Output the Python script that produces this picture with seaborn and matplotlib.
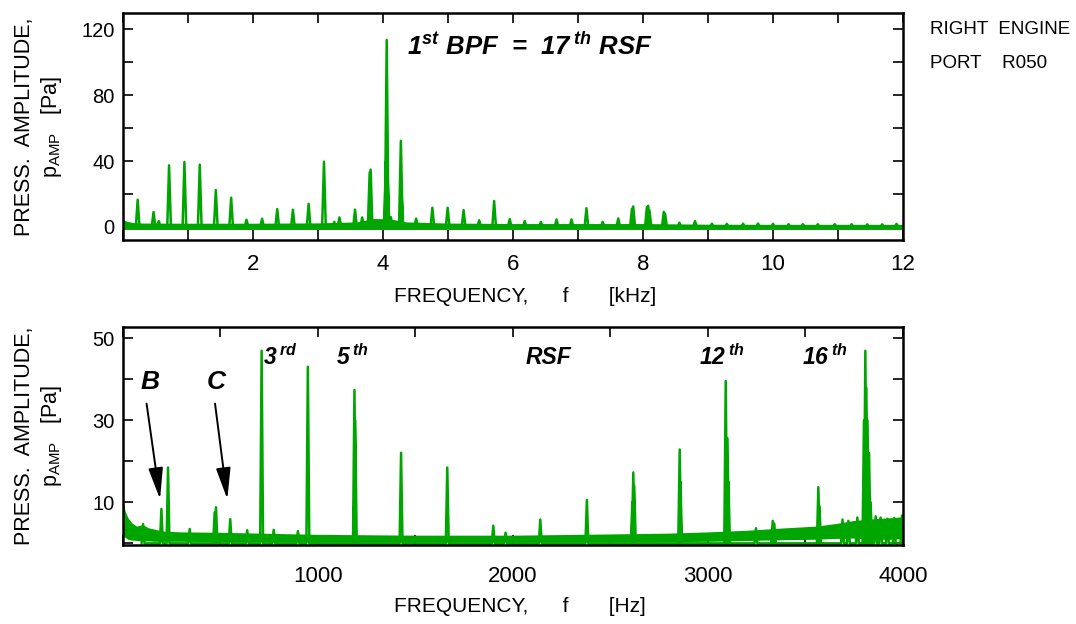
import numpy as np
import pandas as pd
import matplotlib
matplotlib.use("Agg")
import matplotlib.pyplot as plt
import seaborn as sns

# ---------------- upper panel: spectrum 0-12 kHz ----------------
top_peak_khz = [0.226, 0.47, 0.55, 0.709, 0.945, 1.181, 1.428, 1.664, 1.90, 2.14,
                2.373, 2.614, 2.856, 3.092, 3.25, 3.33, 3.57, 3.68, 3.795, 3.81,
                4.045, 4.057, 4.07, 4.12, 4.275, 4.285, 4.51, 4.76, 4.995, 5.24,
                5.48, 5.71, 5.95, 6.18, 6.43, 6.67, 6.90, 7.13, 7.38, 7.62,
                7.83, 7.85, 8.06, 8.08, 8.10, 8.32, 8.34, 8.56, 8.80, 9.06,
                9.29, 9.54, 9.77, 10.00, 10.24, 10.46, 10.69, 10.95, 11.21, 11.45,
                11.68, 11.90]
top_peak_pa = [16.5, 9.0, 3.5, 37.4, 39.4, 37.8, 22.4, 17.7, 4.3, 4.9,
               10.8, 10.4, 14.0, 39.6, 3.0, 5.7, 10.4, 5.7, 33.0, 34.8,
               40.0, 113.6, 30.0, 6.0, 52.3, 20.0, 5.0, 11.6, 11.6, 10.2,
               4.0, 15.7, 4.7, 3.5, 3.0, 4.5, 4.5, 11.3, 3.0, 5.1,
               11.0, 12.4, 12.0, 12.8, 10.0, 9.1, 8.0, 2.5, 3.5, 1.9,
               1.8, 1.9, 2.0, 1.8, 1.6, 1.6, 1.6, 1.6, 1.6, 1.5,
               1.5, 1.8]
top_floor_khz = [0.0, 0.05, 0.15, 0.3, 1.0, 2.0, 3.0, 3.6, 3.85, 4.0, 4.15, 4.35, 5.0, 6.0, 8.0, 9.0, 10.0, 12.0]
top_floor_lo = [-1.6, -1.6, -1.6, -1.6, -1.6, -1.6, -1.6, -1.6, -1.6, -1.6, -1.6, -1.6, -1.6, -1.6, -1.6, -1.6, -1.6, -1.6]
top_floor_hi = [4.5, 3.5, 2.6, 2.3, 2.2, 2.2, 2.4, 3.0, 5.0, 5.0, 4.5, 3.0, 2.3, 2.0, 2.0, 1.6, 1.5, 1.5]

top_xticks = [0, 1, 2, 3, 4, 5, 6, 7, 8, 9, 10, 11, 12]
top_xticklabels = ["", "", "2", "", "4", "", "6", "", "8", "", "10", "", "12"]
top_yticks = [0, 20, 40, 60, 80, 100, 120]
top_yticklabels = ["0", "", "40", "", "80", "", "120"]

# ---------------- lower panel: spectrum 0-4000 Hz ----------------
bot_peak_hz = [103, 197, 231, 342, 470, 477, 550, 637, 711, 773,
               897, 948, 1187, 1191, 1426, 1663, 1899, 1962, 2140, 2379,
               2612, 2617, 2622, 2855, 2859, 3091, 3100, 3105, 3246, 3332,
               3340, 3566, 3572, 3690, 3720, 3766, 3800, 3807, 3812, 3818,
               3826, 3834, 3860, 3885, 3920, 3955, 3995]
bot_peak_pa = [4.7, 8.4, 18.5, 3.5, 7.5, 8.8, 5.9, 3.2, 47.0, 3.3,
               3.0, 43.1, 37.4, 30.0, 22.1, 18.5, 4.3, 2.6, 5.8, 10.6,
               10.0, 17.3, 14.0, 22.9, 15.0, 39.6, 25.6, 15.0, 3.7, 5.5,
               4.8, 13.7, 9.0, 5.8, 5.5, 6.3, 30.0, 47.0, 38.0, 30.0,
               22.0, 10.0, 6.6, 6.3, 6.0, 6.2, 6.8]
bot_floor_hz = [0, 10, 25, 45, 70, 100, 130, 160, 200, 300, 500, 700, 1000, 1500,
                2000, 2500, 2800, 3000, 3200, 3400, 3550, 3650, 3750, 3850, 3950, 4000]
bot_floor_lo = [2.0, 1.5, 1.0, 0.8, 0.7, 0.6, 0.6, 0.5, 0.5, 0.5, 0.4, 0.4, 0.3, 0.3,
                0.3, 0.3, 0.4, 0.5, 0.7, 0.9, 1.0, 1.2, 1.3, 1.0, 1.0, 1.2]
bot_floor_hi = [11.0, 8.0, 6.3, 5.0, 4.2, 4.6, 3.8, 3.5, 3.0, 2.8, 2.7, 2.5, 2.2, 2.0,
                2.0, 2.3, 2.5, 2.8, 3.2, 3.8, 4.2, 4.8, 5.6, 6.0, 6.3, 6.5]

bot_xticks = [0, 500, 1000, 1500, 2000, 2500, 3000, 3500, 4000]
bot_xticklabels = ["", "", "1000", "", "2000", "", "3000", "", "4000"]
bot_yticks = [0, 10, 20, 30, 40, 50]
bot_yticklabels = ["", "10", "", "30", "", "50"]

GREEN = "#00a600"


def spike_trace(freqs, amps, half_width):
    """Narrow triangular spectral lines rising from zero."""
    f = np.asarray(freqs, dtype=float)
    a = np.asarray(amps, dtype=float)
    order = np.argsort(f, kind="stable")
    f, a = f[order], a[order]
    zeros = np.zeros_like(f)
    xs = np.column_stack([f - half_width, f, f + half_width]).ravel()
    ys = np.column_stack([zeros, a, zeros]).ravel()
    return pd.DataFrame({"freq": xs, "amp": ys})


sns.set_theme(style="ticks")
plt.rcParams.update({
    "font.family": ["Liberation Sans", "DejaVu Sans"],
    "mathtext.fontset": "custom",
    "mathtext.rm": "Liberation Sans",
    "mathtext.it": "Liberation Sans:italic",
    "mathtext.bf": "Liberation Sans:bold",
    "mathtext.bfit": "Liberation Sans:italic:bold",
    "axes.linewidth": 1.8,
    "axes.edgecolor": "black",
    "text.color": "black",
    "axes.labelcolor": "black",
    "xtick.color": "black",
    "ytick.color": "black",
})

fig = plt.figure(figsize=(10.76, 6.24), dpi=100)
ax1 = fig.add_axes([0.1143, 0.6154, 0.7249, 0.3638])
ax2 = fig.add_axes([0.1143, 0.1266, 0.7249, 0.3494])

# upper spectrum
ax1.fill_between(top_floor_khz, top_floor_lo, top_floor_hi, color=GREEN, lw=0)
sns.lineplot(data=spike_trace(top_peak_khz, top_peak_pa, 0.028), x="freq", y="amp",
             sort=False, estimator=None, color=GREEN, lw=1.8, ax=ax1)
ax1.set_xlim(0, 12)
ax1.set_ylim(-8, 130)

# lower spectrum
ax2.fill_between(bot_floor_hz, bot_floor_lo, bot_floor_hi, color=GREEN, lw=0)
sns.lineplot(data=spike_trace(bot_peak_hz, bot_peak_pa, 7.5), x="freq", y="amp",
             sort=False, estimator=None, color=GREEN, lw=1.8, ax=ax2)
ax2.set_xlim(0, 4000)
ax2.set_ylim(-0.4, 52.8)

for ax, xt, xtl, yt, ytl, xpad in [
        (ax1, top_xticks, top_xticklabels, top_yticks, top_yticklabels, 10),
        (ax2, bot_xticks, bot_xticklabels, bot_yticks, bot_yticklabels, 15)]:
    ax.set_xticks(xt)
    ax.set_xticklabels(xtl, fontsize=16)
    ax.set_yticks(yt)
    ax.set_yticklabels(ytl, fontsize=14.5)
    ax.tick_params(axis="both", direction="in", length=7, width=1.2,
                   top=True, right=True, colors="black")
    ax.tick_params(axis="x", pad=xpad)
    ax.tick_params(axis="y", pad=6)
    ax.set_ylabel("PRESS.  AMPLITUDE,\np$_{\\mathrm{AMP}}$   [Pa]",
                  fontsize=15.5, linespacing=1.25)
    ax.yaxis.set_label_coords(-0.075, 0.5)
    for s in ax.spines.values():
        s.set_linewidth(1.8)

ax1.set_xlabel("FREQUENCY,      f       [kHz]", fontsize=15)
ax1.xaxis.set_label_coords(0.515, -0.205)
ax2.set_xlabel("FREQUENCY,      f       [Hz]", fontsize=15)
ax2.xaxis.set_label_coords(0.509, -0.24)

# annotations, upper panel
ax1.text(6.26, 109.5, "1$^{\\mathbfit{st}}$ BPF  =  17$^{\\;\\mathbfit{th}}$ RSF",
         fontsize=18.5, fontweight="bold", fontstyle="italic", ha="center", va="center")

# annotations, lower panel
lbl = dict(fontsize=16.5, fontweight="bold", fontstyle="italic", ha="center", va="center")
ax2.text(810, 45.4, "3$^{\\;\\mathbfit{rd}}$", **lbl)
ax2.text(1175, 45.4, "5$^{\\;\\mathbfit{th}}$", **lbl)
ax2.text(2180, 45.4, "RSF", **lbl)
ax2.text(3070, 45.4, "12$^{\\;\\mathbfit{th}}$", **lbl)
ax2.text(3600, 45.4, "16$^{\\;\\mathbfit{th}}$", **lbl)

arrow = dict(arrowstyle="-|>,head_length=1.2,head_width=0.28", color="black",
             lw=1.4, mutation_scale=16, shrinkA=0, shrinkB=0)
ax2.text(138, 39.3, "B", fontsize=19, fontweight="bold", fontstyle="italic",
         ha="center", va="center")
ax2.annotate("", xy=(190, 10.8), xytext=(121, 34.1), arrowprops=arrow)
ax2.text(478, 39.3, "C", fontsize=19, fontweight="bold", fontstyle="italic",
         ha="center", va="center")
ax2.annotate("", xy=(535, 10.8), xytext=(472, 34.1), arrowprops=arrow)

fig.text(930 / 1076, 1 - 29 / 624, "RIGHT  ENGINE", fontsize=13.5, ha="left", va="center")
fig.text(930 / 1076, 1 - 64 / 624, "PORT    R050", fontsize=13.5, ha="left", va="center")

fig.savefig("out.png", dpi=100)
